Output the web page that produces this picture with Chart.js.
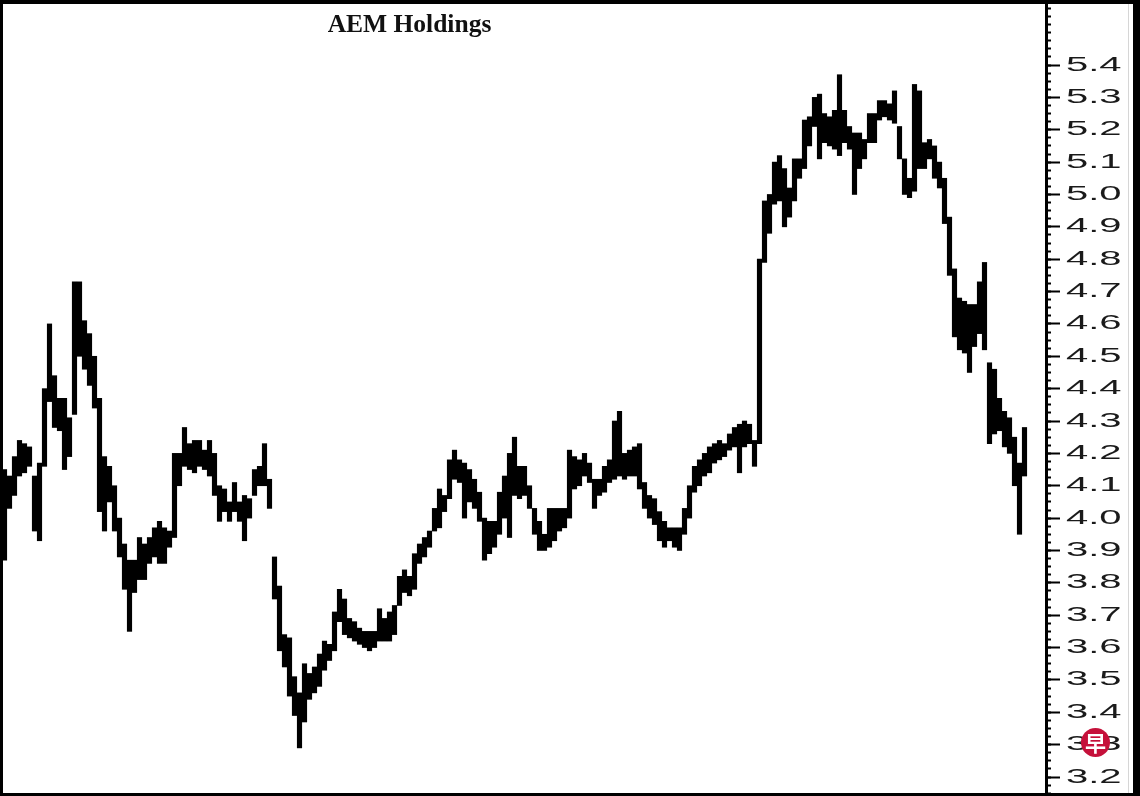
<!DOCTYPE html>
<html>
<head>
<meta charset="utf-8">
<script src="https://cdn.jsdelivr.net/npm/chart.js@4"></script>
<style>
html,body{margin:0;padding:0;background:#fff;}
#frame{position:relative;width:1140px;height:796px;box-sizing:border-box;border-style:solid;border-color:#000;border-width:4px 7px 3px 3px;background:#fff;overflow:hidden;}
canvas{display:block;}
#title{position:absolute;left:0;top:7px;width:813px;text-align:center;font-family:"Liberation Serif","Times New Roman",serif;font-weight:bold;font-size:25.5px;line-height:25px;color:#111;}
#edge{position:absolute;left:1125px;top:0;width:1px;height:789px;background:#d6d6d6;}
#logo{position:absolute;left:1078px;top:724px;width:29px;height:29px;border-radius:50%;background:#c5103a;color:#fff;font-family:"Noto Sans CJK SC",sans-serif;font-weight:bold;font-size:21px;line-height:29px;text-align:center;}
</style>
</head>
<body>
<div id="frame">
  <canvas id="c" width="1130" height="789"></canvas>
  <div id="title">AEM Holdings</div>
  <div id="edge"></div>
  <div id="logo">早</div>
</div>
<script>
// Daily high / low prices (SGD)
const highs = [
  4.15,4.13,4.19,4.24,4.23,4.22,4.13,4.17,4.40,4.60,
  4.44,4.37,4.37,4.31,4.73,4.73,4.61,4.57,4.50,4.37,
  4.19,4.16,4.10,4.00,3.92,3.87,3.87,3.94,3.92,3.94,
  3.97,3.99,3.97,3.96,4.20,4.20,4.28,4.23,4.24,4.24,
  4.21,4.24,4.20,4.10,4.09,4.05,4.11,4.05,4.07,4.06,
  4.15,4.16,4.23,4.12,3.88,3.79,3.64,3.63,3.51,3.46,
  3.55,3.52,3.54,3.58,3.62,3.61,3.71,3.78,3.75,3.69,
  3.68,3.66,3.65,3.65,3.65,3.72,3.69,3.71,3.73,3.82,
  3.84,3.82,3.89,3.92,3.94,3.96,4.03,4.09,4.07,4.18,
  4.21,4.18,4.17,4.15,4.12,4.08,4.00,3.99,3.99,4.08,
  4.13,4.20,4.25,4.16,4.16,4.10,4.03,3.99,3.95,4.03,
  4.03,4.03,4.03,4.21,4.19,4.18,4.20,4.17,4.12,4.12,
  4.16,4.18,4.30,4.33,4.20,4.21,4.22,4.23,4.11,4.07,
  4.06,4.02,3.99,3.97,3.97,3.97,4.03,4.10,4.16,4.18,
  4.20,4.22,4.23,4.24,4.23,4.26,4.28,4.29,4.30,4.29,
  4.24,4.80,4.98,5.00,5.10,5.12,5.08,5.02,5.11,5.11,
  5.23,5.24,5.30,5.31,5.25,5.24,5.26,5.37,5.26,5.21,
  5.19,5.19,5.17,5.25,5.25,5.29,5.29,5.28,5.32,5.21,
  5.11,5.05,5.34,5.32,5.16,5.17,5.15,5.10,5.05,4.93,
  4.77,4.68,4.67,4.66,4.66,4.73,4.79,4.48,4.46,4.37,
  4.33,4.31,4.25,4.17,4.28
];
const lows = [
  3.87,4.03,4.07,4.13,4.14,4.16,3.96,3.93,4.16,4.36,
  4.28,4.27,4.15,4.19,4.32,4.50,4.46,4.41,4.34,4.02,
  3.96,4.05,3.96,3.88,3.78,3.65,3.77,3.81,3.81,3.86,
  3.88,3.86,3.86,3.91,3.94,4.10,4.16,4.15,4.14,4.16,
  4.15,4.13,4.07,3.99,4.02,3.99,4.02,3.99,3.93,4.00,
  4.07,4.10,4.10,4.03,3.75,3.59,3.54,3.45,3.39,3.29,
  3.37,3.44,3.46,3.48,3.53,3.56,3.59,3.68,3.64,3.63,
  3.62,3.61,3.60,3.59,3.60,3.62,3.62,3.62,3.64,3.73,
  3.77,3.76,3.78,3.86,3.88,3.91,3.96,3.97,4.02,4.06,
  4.12,4.11,4.00,4.05,4.03,3.99,3.87,3.89,3.91,3.95,
  4.00,3.94,4.07,4.06,4.07,4.03,3.95,3.90,3.90,3.91,
  3.93,3.96,3.97,4.00,4.09,4.10,4.13,4.11,4.03,4.07,
  4.08,4.11,4.12,4.13,4.12,4.13,4.13,4.09,4.03,4.00,
  3.98,3.93,3.91,3.93,3.91,3.90,3.95,4.00,4.08,4.10,
  4.13,4.14,4.17,4.18,4.19,4.21,4.22,4.14,4.22,4.23,
  4.16,4.23,4.79,4.88,4.97,4.98,4.90,4.93,4.98,5.05,
  5.08,5.15,5.21,5.11,5.16,5.15,5.14,5.12,5.16,5.14,
  5.00,5.08,5.11,5.16,5.16,5.23,5.24,5.23,5.22,5.11,
  5.00,4.99,5.01,5.08,5.08,5.11,5.05,5.02,4.91,4.75,
  4.56,4.52,4.51,4.45,4.53,4.57,4.52,4.23,4.26,4.27,
  4.22,4.20,4.10,3.95,4.13
];
const tickLabels = ['3.2','3.3','3.4','3.5','3.6','3.7','3.8','3.9','4.0','4.1','4.2','4.3','4.4','4.5','4.6','4.7','4.8','4.9','5.0','5.1','5.2','5.3','5.4'];
const days = highs.map((_, i) => i);

const Y_MIN = 3.1506, Y_MAX = 5.5885;
const LABEL_STRETCH = 2.0;

const stretchLabels = {
  id: 'stretchLabels',
  afterLayout(chart) {
    const s = chart.scales.y;
    if (!s || s._stretched) return;
    const orig = s.drawLabels;
    s.drawLabels = function (area) {
      const c = this.ctx;
      const x0 = this.left + this.options.grid.tickLength + this.options.ticks.padding;
      c.save();
      c.translate(x0, 0);
      c.scale(LABEL_STRETCH, 1);
      c.translate(-x0, 0);
      orig.call(this, area);
      c.restore();
    };
    s._stretched = true;
  }
};

new Chart(document.getElementById('c').getContext('2d'), {
  type: 'bar',
  data: {
    datasets: [{
      data: days.map(i => ({ x: i, y: [lows[i], highs[i]] })),
      backgroundColor: '#000',
      borderWidth: 0,
      borderSkipped: false,
      barThickness: 4.5,
      yAxisID: 'y'
    }]
  },
  options: {
    responsive: false,
    animation: false,
    devicePixelRatio: 1,
    layout: { padding: 0, autoPadding: false },
    plugins: { legend: { display: false }, tooltip: { enabled: false }, title: { display: false } },
    scales: {
      x: { type: 'linear', display: false, min: -0.3, max: 208.3, offset: false },
      yMinor: {
        type: 'linear', position: 'right', weight: 0, min: Y_MIN, max: Y_MAX,
        afterBuildTicks: s => { const t = []; for (let k = 0; k <= 97; k++) t.push({ value: 3.15 + k * 0.025 }); s.ticks = t; },
        afterFit: s => { s.width = 0; s.paddingTop = 0; s.paddingBottom = 0; },
        border: { display: false },
        grid: { drawOnChartArea: false, drawTicks: true, tickLength: 5, tickWidth: 2, tickColor: '#000' },
        ticks: { display: false }
      },
      y: {
        type: 'linear', position: 'right', weight: 1, min: Y_MIN, max: Y_MAX,
        afterBuildTicks: s => { s.ticks = tickLabels.map(t => ({ value: parseFloat(t) })); },
        afterFit: s => { s.width = 87; s.paddingTop = 0; s.paddingBottom = 0; },
        border: { display: true, color: '#000', width: 3 },
        grid: { drawOnChartArea: false, drawTicks: true, tickLength: 14, tickWidth: 2, tickColor: '#000' },
        ticks: {
          color: '#1a1a1a', padding: 6,
          font: { family: '"Liberation Sans", Arial, sans-serif', size: 20 },
          callback: (v, i) => tickLabels[i]
        }
      }
    }
  },
  plugins: [stretchLabels]
});
</script>
</body>
</html>
